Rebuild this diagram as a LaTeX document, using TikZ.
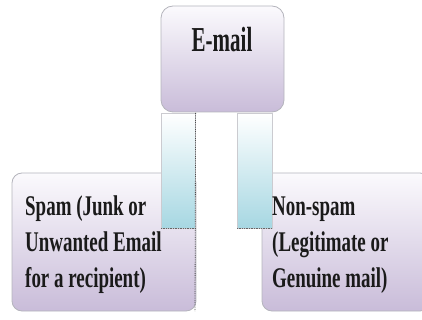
\documentclass[tikz,border=0pt]{standalone}
\usepackage{fontspec}
\setmainfont{Liberation Serif}[FakeStretch=0.665]
\newfontfamily\titlefont{Liberation Serif}[FakeStretch=0.6]
\definecolor{lav}{HTML}{C9BCD9}
\definecolor{lavtop}{HTML}{FBFAFD}
\definecolor{cyanb}{HTML}{A6D7E2}
\definecolor{edge}{HTML}{B4B4BC}
\definecolor{ink}{HTML}{1A1A1A}
\begin{document}
\begin{tikzpicture}[x=1pt,y=-1pt,
  boxshape/.style={draw=edge, line width=0.8pt, top color=lavtop, bottom color=lav},
  connshape/.style={draw=edge!70, line width=0.6pt, top color=white, bottom color=cyanb},
  lbl/.style={inner sep=0pt, align=left, text=ink, font=\fontsize{28.5}{36.5}\selectfont\bfseries},
  ttl/.style={inner sep=0pt, text=ink, font=\titlefont\fontsize{35}{40}\selectfont\bfseries}]
\useasboundingbox (0,0) rectangle (422,320);
% boxes
\draw[boxshape, rounded corners=12pt] (161,112) -- (161,6) -- (284,6) -- (284,112) -- cycle;
\draw[boxshape, rounded corners=10pt] (12,173) rectangle (196,311);
\draw[boxshape, rounded corners=10pt] (262,173) rectangle (430,311);
% connectors
\node[connshape, minimum width=34pt, minimum height=115pt, inner sep=0pt, anchor=north west] (lc) at (161,113) {};
\node[connshape, minimum width=35pt, minimum height=115pt, inner sep=0pt, anchor=north west] (rc) at (237,113) {};
\draw[densely dotted, line width=0.7pt, gray!80!black] (lc.south west) -- (lc.south east);
\draw[densely dotted, line width=0.7pt, gray!80!black] (rc.south west) -- (rc.south east);
\coordinate (dotend) at (195,311);
\draw[densely dotted, line width=0.8pt, black!70] (lc.north east) -- (dotend);
% texts
\node[ttl, anchor=base] (t) at (222,52) {E-mail};
\node[lbl, anchor=base west] (s) at (25,215) {Spam (Junk or};
\node[lbl, anchor=base west] (s2) at (25,251) {Unwanted Email};
\node[lbl, anchor=base west] (s3) at (25,287) {for a recipient)};
\node[lbl, anchor=base west] (n) at (272,215) {Non-spam};
\node[lbl, anchor=base west] (n2) at (272,251) {(Legitimate or};
\node[lbl, anchor=base west] (n3) at (272,287) {Genuine mail)};
\end{tikzpicture}
\end{document}
